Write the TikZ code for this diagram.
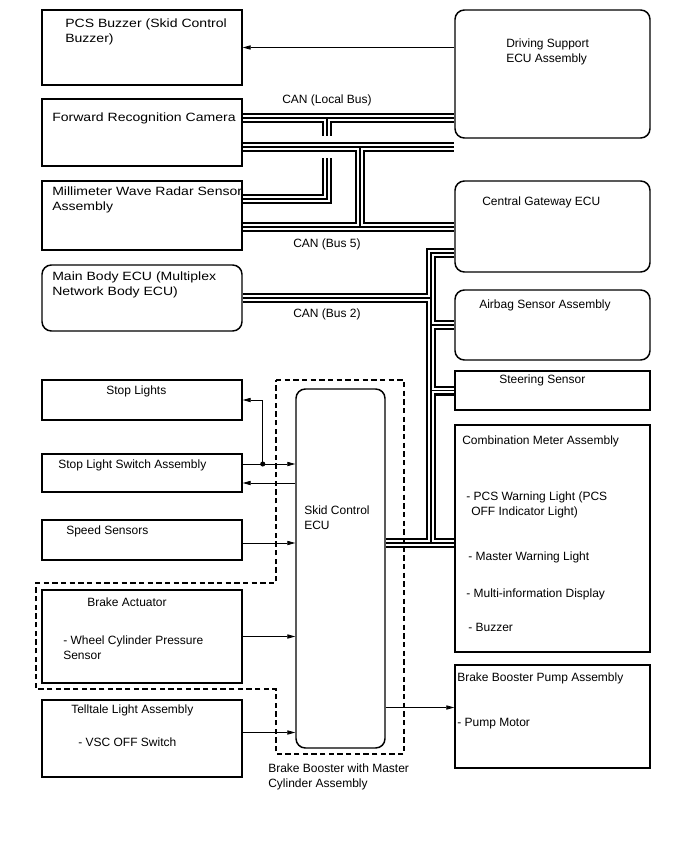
\documentclass[tikz,border=0pt]{standalone}
\usepackage{fontspec}
\setmainfont{Liberation Sans}
\newfontfamily\widefont[FakeStretch=1.17]{Liberation Sans}
\usetikzlibrary{arrows.meta,positioning,fit,calc}
\pgfdeclarelayer{background}
\pgfsetlayers{background,main}

\begin{document}
\begin{tikzpicture}[x=0.75pt,y=-0.75pt,>={Triangle[length=6pt,width=3.2pt]},
 font=\fontsize{9}{11}\selectfont,
 box/.style={draw,line width=1.1pt,inner sep=0pt},
 rbox/.style={box,rounded corners=7pt},
 txt/.style={anchor=north west,inner sep=0pt,align=left},
 wide/.style={txt,font=\widefont\fontsize{9}{11.25}\selectfont},
 sig/.style={->,line width=0.6pt},
 busout/.style={line width=7.5pt},
 busin/.style={white,line width=4.3pt},
 busmid/.style={line width=0.8pt},
 busgap/.style={white,line width=16pt}]
\useasboundingbox (0,0) rectangle (688,852);

% left column
\node[box,fit={(42,10) (242,85)}] (buzzer) {};
\node[box,fit={(42,99) (242,166)}] (cam) {};
\node[box,fit={(42,181) (242,250)}] (radar) {};
\node[rbox,fit={(42,265) (242,331)}] (mainb) {};
\node[box,fit={(42,380) (242,420)}] (stopl) {};
\node[box,fit={(42,454) (242,492)}] (swa) {};
\node[box,fit={(42,520) (242,560)}] (speed) {};
\node[box,fit={(42,590) (242,683)}] (act) {};
\node[box,fit={(42,700) (242,777)}] (tell) {};
% right column
\node[rbox,fit={(455,10) (650,138)}] (ds) {};
\node[rbox,fit={(455,181) (650,272)}] (gw) {};
\node[rbox,fit={(455,290) (650,360)}] (airbag) {};
\node[box,fit={(455,371) (650,410)}] (steer) {};
\node[box,fit={(455,425) (650,652)}] (meter) {};
\node[box,fit={(455,665) (650,768)}] (pump) {};
% skid control
\node[rbox,fit={(296,389) (385,748)}] (ecu) {};
\draw[line width=1.1pt,dash pattern=on 4pt off 2.5pt]
 (276,380) -- (404,380) -- (404,754) -- (276,754) -- (276,689)
 -- (36,689) -- (36,583) -- (276,583) -- cycle;

% texts
\node[wide] (tBuzzer) at (65,18.5) {PCS Buzzer (Skid Control\\Buzzer)};
\node[txt] (tDs) at (506,38.5) {Driving Support\\ECU Assembly};
\node[wide] (tCam) at (52,112.5) {Forward Recognition Camera};
\node[wide] (tRadar) at (52,186.5) {Millimeter Wave Radar Sensor\\Assembly};
\node[txt] (tGw) at (482,196.5) {Central Gateway ECU};
\node[wide] (tMain) at (52,272) {Main Body ECU (Multiplex\\Network Body ECU)};
\node[txt] (tAirbag) at (479,299.5) {Airbag Sensor Assembly};
\node[txt] (tStopl) at (106,385.5) {Stop Lights};
\node[txt] (tSteer) at (499,374.5) {Steering Sensor};
\node[txt] (tMeter) at (462,435.5) {Combination Meter Assembly};
\node[txt] (tPcs) at (466,491.5) {- PCS Warning Light (PCS\\\hspace*{3.75pt}OFF Indicator Light)};
\node[txt] (tMaster) at (468,551.5) {- Master Warning Light};
\node[txt] (tMulti) at (466,588.5) {- Multi-information Display};
\node[txt] (tBuzz) at (468,622.5) {- Buzzer};
\node[txt] (tSwa) at (58,459.5) {Stop Light Switch Assembly};
\node[txt] (tEcu) at (304,505.5) {Skid Control\\ECU};
\node[txt] (tSpeed) at (66,525.5) {Speed Sensors};
\node[txt] (tAct) at (87,597.5) {Brake Actuator};
\node[txt] (tWheel) at (63,635.5) {- Wheel Cylinder Pressure\\Sensor};
\node[txt] (tPump) at (457,672.5) {Brake Booster Pump Assembly};
\node[txt] (tMotor) at (457,717.5) {- Pump Motor};
\node[txt] (tTell) at (71,704.5) {Telltale Light Assembly};
\node[txt] (tVsc) at (78,737.5) {- VSC OFF Switch};
\node[txt] (tBooster) at (268,763.5) {Brake Booster with Master\\Cylinder Assembly};
\node[txt] (tLocal) at (282,94.5) {CAN (Local Bus)};
\node[txt] (tBus5) at (293,238.5) {CAN (Bus 5)};
\node[txt] (tBus2) at (293,308.5) {CAN (Bus 2)};

% bus corners
\coordinate (lbJ) at (327,118);
\coordinate (lbK) at (327,199);
\coordinate (b5J) at (360,147);
\coordinate (b5K) at (360,227);
\coordinate (trTop) at (431,253);
\coordinate (trBot) at (431,543);

\begin{pgfonlayer}{background}
 % CAN (Local Bus)
 \foreach \s in {busout,busin,busmid}
 \draw[\s] (cam.east |- lbJ) -- (ds.west |- lbJ)
 (lbJ) -- (lbK) -- (radar.east |- lbK);
 \draw[busgap] (cam.east |- b5J) -- (ds.west |- b5J);
 % CAN (Bus 5), CAN (Bus 2)
 \foreach \s in {busout,busin,busmid}
 \draw[\s] (cam.east |- b5J) -- (ds.west |- b5J)
 (b5J) -- (b5K) (radar.east |- b5K) -- (gw.west |- b5K)
 (gw.west |- trTop) -- (trTop) -- (trBot) -- (meter.west |- trBot)
 (ecu.east |- trBot) -- (trBot)
 (mainb.east) -- (mainb.east -| trTop)
 (airbag.west -| trTop) -- (airbag.west)
 (steer.west -| trTop) -- (steer.west);
\end{pgfonlayer}

% signal lines
\coordinate (swIn) at ($(swa.east)+(0,-9)$);
\coordinate (swOut) at ($(swa.east)+(0,10)$);
\coordinate (split) at ($(swIn)+(20,0)$);
\draw[sig] (ds.west |- buzzer.east) -- (buzzer.east);
\draw[sig] (swIn) -- (swIn -| ecu.west);
\draw[sig] (split) |- (stopl.east);
\fill (split) circle (1.9pt);
\draw[sig] (swOut -| ecu.west) -- (swOut);
\draw[sig] ($(speed.east)+(0,3)$) -- ($(speed.east -| ecu.west)+(0,3)$);
\draw[sig] (act.east) -- (act.east -| ecu.west);
\draw[sig] ($(tell.east)+(0,-6)$) -- ($(tell.east -| ecu.west)+(0,-6)$);
\draw[sig] ($(ecu.east |- pump.west)+(0,-9)$) -- ($(pump.west)+(0,-9)$);
\end{tikzpicture}
\end{document}
